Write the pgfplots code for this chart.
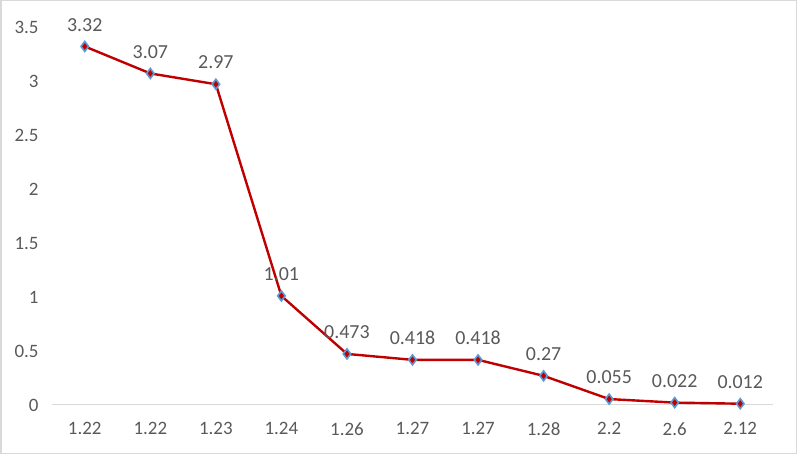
\documentclass[border=0pt]{standalone}
\usepackage{pgfplots}
\pgfplotsset{compat=1.18}
\usepackage{fontspec}
\setmainfont{Carlito}
\definecolor{txt}{HTML}{595959}
\definecolor{axl}{HTML}{D9D9D9}
\definecolor{lred}{HTML}{C00000}
\definecolor{mblue}{HTML}{5B9BD5}
\begin{document}
\begin{tikzpicture}
\useasboundingbox (0bp,0bp) rectangle (797bp,454bp);
\draw[color=axl, line width=1.5bp] (0.75bp,0.75bp) rectangle (796.25bp,453.25bp);
\begin{axis}[
  at={(52bp,49bp)}, anchor=south west,
  scale only axis, width=721bp, height=378bp,
  xmin=-0.5, xmax=10.5, ymin=0, ymax=3.5,
  axis line style={draw=none},
  axis x line*=bottom,
  axis y line*=left,
  xtick={0,...,10},
  xticklabels={1.22,1.22,1.23,1.24,1.26,1.27,1.27,1.28,2.2,2.6,2.12},
  ytick={0,0.5,1,1.5,2,2.5,3,3.5},
  yticklabels={0,0.5,1,1.5,2,2.5,3,3.5},
  major tick length=0pt,
  tick label style={font=\fontsize{19}{19}\selectfont, text=txt},
  xticklabel style={yshift=-14bp},
  yticklabel style={xshift=-10bp},
  clip=false,
]
\draw[axl, line width=1bp] (axis cs:-0.5,0) -- (axis cs:10.5,0);
\addplot[color=lred, line width=2.4bp, sharp plot,
  mark=diamond*, mark size=5bp,
  mark options={fill=lred, draw=mblue, line width=1.6bp},
  nodes near coords, point meta=explicit symbolic,
  every node near coord/.append style={font=\fontsize{20}{20}\selectfont, text=txt, anchor=south, yshift=11bp}]
  table[meta=lab] {
x y lab
0 3.32 3.32
1 3.07 3.07
2 2.97 2.97
3 1.01 1.01
4 0.473 0.473
5 0.418 0.418
6 0.418 0.418
7 0.27 0.27
8 0.055 0.055
9 0.022 0.022
10 0.012 0.012
};
\end{axis}
\end{tikzpicture}
\end{document}
